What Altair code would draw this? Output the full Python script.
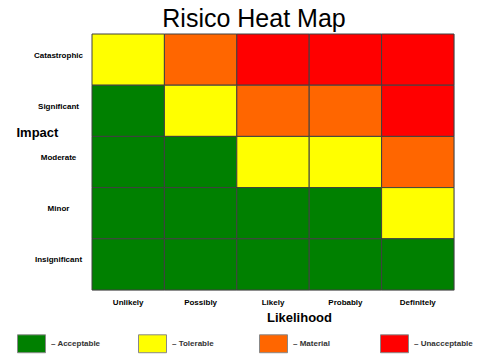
import altair as alt
import pandas as pd

likelihood = ["Unlikely", "Possibly", "Likely", "Probably", "Definitely"]
impact = ["Catastrophic", "Significant", "Moderate", "Minor", "Insignificant"]
levels = ["Acceptable", "Tolerable", "Material", "Unacceptable"]
level_colors = ["#008000", "#FFFF00", "#FF6600", "#FF0000"]
risk_matrix = [
    ["Tolerable", "Material", "Unacceptable", "Unacceptable", "Unacceptable"],
    ["Acceptable", "Tolerable", "Material", "Material", "Unacceptable"],
    ["Acceptable", "Acceptable", "Tolerable", "Tolerable", "Material"],
    ["Acceptable", "Acceptable", "Acceptable", "Acceptable", "Tolerable"],
    ["Acceptable", "Acceptable", "Acceptable", "Acceptable", "Acceptable"],
]

rows = []
for i, imp in enumerate(impact):
    for j, lik in enumerate(likelihood):
        rows.append({"Impact": imp, "Likelihood": lik, "Risk": risk_matrix[i][j]})
df = pd.DataFrame(rows)

FONT = "Liberation Sans"

chart = (
    alt.Chart(df)
    .mark_rect(stroke="#404040", strokeWidth=1)
    .encode(
        x=alt.X(
            "Likelihood:N",
            sort=likelihood,
            scale=alt.Scale(paddingInner=0, paddingOuter=0),
            axis=alt.Axis(
                orient="bottom",
                labelAngle=0,
                ticks=False,
                tickSize=0,
                domain=False,
                labelPadding=8,
                labelFont=FONT,
                labelFontSize=8,
                labelFontWeight="bold",
                labelColor="#000000",
                title="Likelihood",
                titleFont=FONT,
                titleFontSize=13,
                titleFontWeight="bold",
                titleColor="#000000",
                titleX=207,
                titleY=31,
                titleAlign="center",
                titleBaseline="alphabetic",
            ),
        ),
        y=alt.Y(
            "Impact:N",
            sort=impact,
            scale=alt.Scale(paddingInner=0, paddingOuter=0),
            axis=alt.Axis(
                ticks=False,
                tickSize=0,
                domain=False,
                labelPadding=34,
                labelAlign="center",
                labelOffset=-4,
                labelFont=FONT,
                labelFontSize=8,
                labelFontWeight="bold",
                labelColor="#000000",
                title="Impact",
                titleFont=FONT,
                titleFontSize=13,
                titleFontWeight="bold",
                titleColor="#000000",
                titleAngle=0,
                titleX=-76,
                titleY=98,
                titleAlign="left",
                titleBaseline="middle",
            ),
        ),
        color=alt.Color(
            "Risk:N",
            scale=alt.Scale(domain=levels, range=level_colors),
            legend=alt.Legend(
                orient="none",
                legendX=-75,
                legendY=295,
                direction="horizontal",
                columns=4,
                title=None,
                padding=0,
                symbolType="M-1,-0.64H1V0.64H-1Z",
                symbolSize=784,
                symbolStrokeColor="#888888",
                symbolStrokeWidth=1,
                symbolOpacity=1,
                labelExpr="'\u2013 ' + datum.label",
                labelFont=FONT,
                labelFontSize=8,
                labelFontWeight="bold",
                labelColor="#333333",
                labelOffset=5,
                columnPadding=26,
                gridAlign="all",
            ),
        ),
    )
    .properties(
        width=362,
        height=256,
        title=alt.Title(
            "Risico Heat Map",
            font=FONT,
            fontSize=25,
            fontWeight="normal",
            color="#000000",
            anchor="middle",
            frame="group",
            dx=-19,
            dy=26,
            offset=8,
            baseline="alphabetic",
        ),
        autosize=alt.AutoSizeParams(type="none"),
        padding={"left": 84, "top": 26, "right": 38, "bottom": 66},
    )
    .configure_view(stroke="#666666", strokeWidth=1)
    .configure(background="#ffffff")
)

chart.save("out.html", embed_options={"renderer": "svg", "actions": False})
